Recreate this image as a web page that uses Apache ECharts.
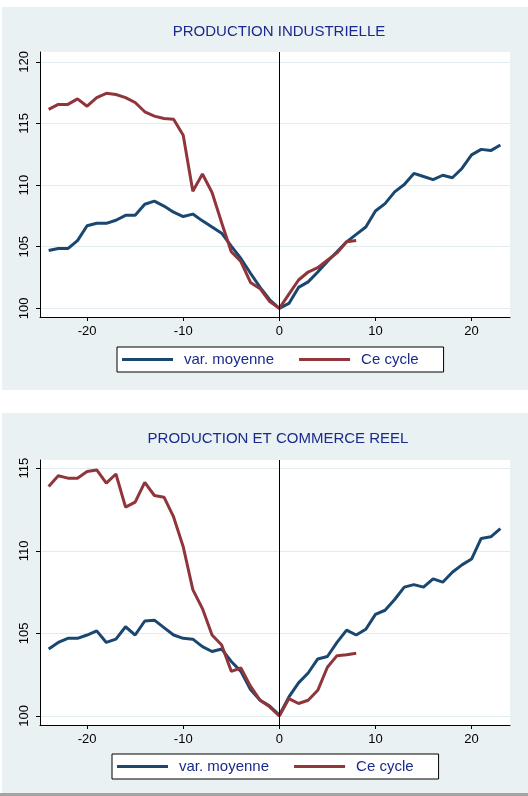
<!DOCTYPE html>
<html>
<head>
<meta charset="utf-8">
<script src="https://cdn.jsdelivr.net/npm/echarts@6/dist/echarts.min.js"></script>
<style>
  html, body { margin: 0; padding: 0; background: #fff; }
  #page { position: relative; width: 528px; height: 796px; overflow: hidden; }
  .panel { position: absolute; left: 2px; width: 526px; background: #eaf1f3; }
  #p1 { top: 7px; height: 383px; }
  #p2 { top: 413px; height: 380px; }
  #foot { position: absolute; left: 0; top: 793px; width: 528px; height: 3px; background: #a3a3a3; }
  #charts { position: absolute; left: 0; top: 0; width: 528px; height: 796px; }
</style>
</head>
<body>
<div id="page">
  <div class="panel" id="p1"></div>
  <div class="panel" id="p2"></div>
  <div id="foot"></div>
  <div id="charts"></div>
</div>
<script>
// mois autour du creux (0 = creux)
var moisMoyenne = [-24, -23, -22, -21, -20, -19, -18, -17, -16, -15, -14, -13, -12, -11, -10, -9, -8, -7, -6, -5, -4, -3, -2, -1,
  0, 1, 2, 3, 4, 5, 6, 7, 8, 9, 10, 11, 12, 13, 14, 15, 16, 17, 18, 19, 20, 21, 22, 23];
var moisCycle = [-24, -23, -22, -21, -20, -19, -18, -17, -16, -15, -14, -13, -12, -11, -10, -9, -8, -7, -6, -5, -4, -3, -2, -1,
  0, 1, 2, 3, 4, 5, 6, 7, 8];

// PRODUCTION INDUSTRIELLE
var ipMoyenne = [104.7, 104.85, 104.85, 105.5, 106.7, 106.9, 106.9, 107.15, 107.55, 107.55, 108.45, 108.7, 108.3, 107.8, 107.45, 107.65, 107.1, 106.6, 106.1, 105.05, 104.05, 102.85, 101.7, 100.7,
  100.0, 100.4, 101.7, 102.15, 102.95, 103.8, 104.6, 105.4, 106.0, 106.6, 107.9, 108.5, 109.45, 110.05, 110.95, 110.7, 110.45, 110.8, 110.6, 111.35, 112.45, 112.9, 112.8, 113.25];
var ipCycle = [116.15, 116.55, 116.55, 117.0, 116.4, 117.1, 117.45, 117.35, 117.1, 116.7, 115.95, 115.6, 115.4, 115.35, 114.05, 109.5, 110.9, 109.4, 106.95, 104.6, 103.8, 102.1, 101.6, 100.55,
  100.0, 101.15, 102.3, 102.95, 103.3, 103.9, 104.5, 105.4, 105.5];

// PRODUCTION ET COMMERCE REEL
var pcMoyenne = [104.05, 104.45, 104.7, 104.7, 104.9, 105.15, 104.45, 104.65, 105.4, 104.9, 105.75, 105.8, 105.35, 104.9, 104.7, 104.65, 104.2, 103.9, 104.05, 103.3, 102.7, 101.6, 100.95, 100.6,
  100.05, 101.15, 102.0, 102.6, 103.45, 103.6, 104.45, 105.2, 104.9, 105.25, 106.15, 106.4, 107.05, 107.8, 107.95, 107.8, 108.3, 108.1, 108.7, 109.15, 109.5, 110.75, 110.85, 111.35];
var pcCycle = [113.9, 114.55, 114.4, 114.4, 114.8, 114.9, 114.1, 114.65, 112.65, 112.95, 114.15, 113.35, 113.25, 112.05, 110.25, 107.65, 106.5, 104.9, 104.3, 102.7, 102.9, 101.8, 100.95, 100.55,
  100.0, 101.05, 100.75, 100.95, 101.55, 102.95, 103.65, 103.7, 103.8];

var xTicks = [-20, -10, 0, 10, 20];
var yTicksIP = [100, 105, 110, 115, 120];
var yTicksPC = [100, 105, 110, 115];

var titres = ['PRODUCTION INDUSTRIELLE', 'PRODUCTION ET COMMERCE REEL'];
var noms = ['var. moyenne', 'Ce cycle'];

function paires(xs, ys) {
  return xs.map(function (x, i) { return [x, ys[i]]; });
}

var FONT = '"Liberation Sans", Arial, sans-serif';
var NAVY = '#1a476f';
var MAROON = '#90353b';
var TITLE = '#1a2a8c';

function xAxe(grid) {
  return {
    type: 'value', gridIndex: grid, min: -24.9, max: 24,
    axisLine: { show: true, onZero: false, lineStyle: { color: '#000', width: 1 } },
    axisTick: { show: true, length: 4, customValues: xTicks, lineStyle: { color: '#000' } },
    axisLabel: { customValues: xTicks, color: '#000', fontSize: 13, fontFamily: FONT, margin: 8 },
    splitLine: { show: false }
  };
}

function yAxe(grid, min, max, ticks) {
  return {
    type: 'value', gridIndex: grid, min: min, max: max,
    axisLine: { show: true, onZero: false, lineStyle: { color: '#000', width: 1 } },
    axisTick: { show: true, length: 4, customValues: ticks, lineStyle: { color: '#000' } },
    axisLabel: { customValues: ticks, rotate: 90, color: '#000', fontSize: 13, fontFamily: FONT, margin: 9 },
    splitLine: { show: true, lineStyle: { color: '#e2ebee', width: 1 } }
  };
}

function ligne(nom, grid, xs, ys, couleur, zero) {
  var s = {
    name: nom, type: 'line', xAxisIndex: grid, yAxisIndex: grid,
    data: paires(xs, ys), showSymbol: false, symbol: 'none',
    lineStyle: { color: couleur, width: 3 }, itemStyle: { color: couleur }
  };
  if (zero) {
    s.markLine = {
      silent: true, symbol: 'none', label: { show: false },
      lineStyle: { color: '#000', width: 1, type: 'solid' },
      data: [{ xAxis: 0 }]
    };
  }
  return s;
}

function legende(left, top) {
  return {
    left: left, top: top, orient: 'horizontal',
    data: noms,
    icon: 'rect', itemWidth: 51, itemHeight: 3, itemGap: 25,
    padding: [5, 25, 5, 5],
    borderColor: '#000', borderWidth: 1, backgroundColor: '#fff',
    textStyle: { color: TITLE, fontSize: 15, fontFamily: FONT, padding: [0, 0, 0, 6] }
  };
}

var myChart = echarts.init(document.getElementById('charts'));
myChart.setOption({
  animation: false,
  title: [
    { text: titres[0], left: 274, top: 19, textAlign: 'center',
      textStyle: { color: TITLE, fontSize: 15, fontWeight: 'normal', fontFamily: FONT } },
    { text: titres[1], left: 273, top: 426, textAlign: 'center',
      textStyle: { color: TITLE, fontSize: 15, fontWeight: 'normal', fontFamily: FONT } }
  ],
  legend: [legende(117, 347), legende(112, 754)],
  grid: [
    { left: 40, top: 52, width: 470, height: 265, show: true, backgroundColor: '#fff', borderWidth: 0 },
    { left: 40, top: 460, width: 470, height: 265, show: true, backgroundColor: '#fff', borderWidth: 0 }
  ],
  xAxis: [xAxe(0), xAxe(1)],
  yAxis: [yAxe(0, 99.3, 120.8, yTicksIP), yAxe(1, 99.45, 115.5, yTicksPC)],
  series: [
    ligne(noms[0], 0, moisMoyenne, ipMoyenne, NAVY, true),
    ligne(noms[1], 0, moisCycle, ipCycle, MAROON, false),
    ligne(noms[0], 1, moisMoyenne, pcMoyenne, NAVY, true),
    ligne(noms[1], 1, moisCycle, pcCycle, MAROON, false)
  ]
});
</script>
</body>
</html>
